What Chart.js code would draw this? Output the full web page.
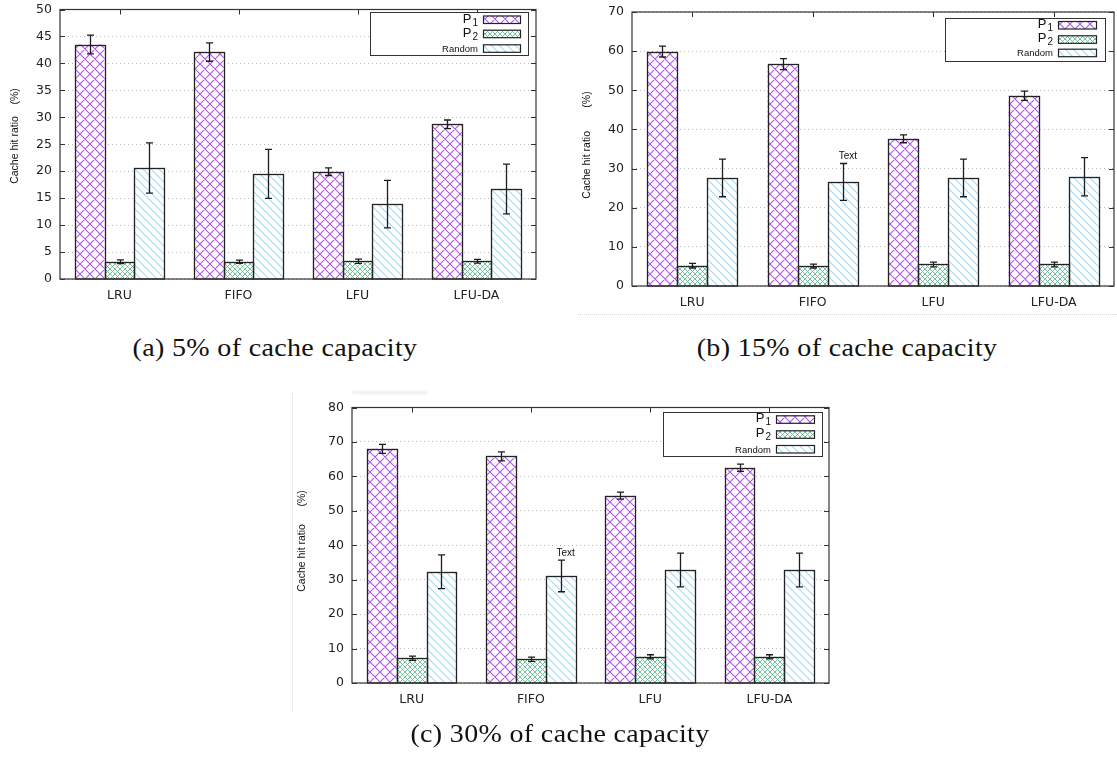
<!DOCTYPE html>
<html>
<head>
<meta charset="utf-8">
<title>Cache hit ratio</title>
<script src="https://cdn.jsdelivr.net/npm/chart.js@4.4.1/dist/chart.umd.min.js"></script>
<style>
  html, body { margin: 0; padding: 0; background: #fff; }
  body { width: 1117px; height: 760px; position: relative; overflow: hidden; }
  canvas.panel { position: absolute; }
  .caption {
    position: absolute;
    font-family: "Liberation Serif", "Times New Roman", serif;
    font-size: 25px;
    line-height: 1;
    color: #111;
    white-space: nowrap;
    transform: translateX(-50%) scaleX(1.12);
    letter-spacing: 0.3px;
  }
  .rule-h { position: absolute; border-top: 1px dotted #d8d8d8; height: 0; }
  .rule-v { position: absolute; border-left: 1px dotted #dcdcdc; width: 0; }
  .smudge { position: absolute; height: 3px; background: #eee; filter: blur(1px); }
</style>
</head>
<body>

<canvas id="chart5" class="panel" width="545" height="320" style="left:0px; top:-6px;"></canvas>
<canvas id="chart15" class="panel" width="547" height="320" style="left:570px; top:-6px;"></canvas>
<canvas id="chart30" class="panel" width="545" height="330" style="left:290px; top:392px;"></canvas>

<div class="caption" style="left:275px; top:335px;">(a) 5% of cache capacity</div>
<div class="caption" style="left:847px; top:335px;">(b) 15% of cache capacity</div>
<div class="caption" style="left:560px; top:721px;">(c) 30% of cache capacity</div>

<div class="rule-h" style="left:578px; top:314px; width:539px;"></div>
<div class="rule-v" style="left:292px; top:393px; height:318px;"></div>
<div class="smudge" style="left:352px; top:391px; width:75px;"></div>

<script>
// replacement policies on the x axis
const categories = ['LRU', 'FIFO', 'LFU', 'LFU-DA'];

// 5% of cache capacity
const p1Hit5 = [43.5, 42.1, 19.9, 28.7];
const p1Err5 = [1.75, 1.7, 0.7, 0.8];
const p2Hit5 = [3.2, 3.2, 3.3, 3.3];
const p2Err5 = [0.35, 0.3, 0.4, 0.35];
const randomHit5 = [20.6, 19.5, 13.9, 16.7];
const randomErr5 = [4.65, 4.55, 4.4, 4.6];
const yTicks5 = [0, 5, 10, 15, 20, 25, 30, 35, 40, 45, 50];

// 15% of cache capacity
const p1Hit15 = [59.9, 56.7, 37.6, 48.6];
const p1Err15 = [1.4, 1.4, 1.0, 1.2];
const p2Hit15 = [5.2, 5.1, 5.5, 5.5];
const p2Err15 = [0.6, 0.5, 0.6, 0.6];
const randomHit15 = [27.6, 26.6, 27.6, 27.9];
const randomErr15 = [4.8, 4.7, 4.8, 4.9];
const yTicks15 = [0, 10, 20, 30, 40, 50, 60, 70];

// 30% of cache capacity
const p1Hit30 = [68.0, 65.8, 54.4, 62.5];
const p1Err30 = [1.3, 1.3, 1.0, 1.05];
const p2Hit30 = [7.2, 6.9, 7.6, 7.6];
const p2Err30 = [0.6, 0.6, 0.6, 0.6];
const randomHit30 = [32.3, 31.1, 32.8, 32.8];
const randomErr30 = [4.9, 4.6, 4.9, 4.9];
const yTicks30 = [0, 10, 20, 30, 40, 50, 60, 70, 80];

// hatch fills, drawn once into small tiles
function hatch(size, color, width, dirs) {
  const tile = document.createElement('canvas');
  tile.width = tile.height = size;
  const g = tile.getContext('2d');
  g.fillStyle = '#fff';
  g.fillRect(0, 0, size, size);
  g.strokeStyle = color;
  g.lineWidth = width;
  g.beginPath();
  for (let k = -1; k <= 1; k++) {
    if (dirs.includes('\\')) { g.moveTo(k * size, 0); g.lineTo(k * size + size, size); }
    if (dirs.includes('/')) { g.moveTo(k * size, size); g.lineTo(k * size + size, 0); }
  }
  g.stroke();
  return g.createPattern(tile, 'repeat');
}

const fillP1 = hatch(10, '#b057e8', 1.1, '\\/');
const fillP2 = hatch(5, '#63bc92', 0.9, '\\/');
const fillRandom = hatch(8, '#a9d6f0', 1.1, '\\');

const legendRows = [
  { main: 'P', sub: '1', fill: fillP1 },
  { main: 'P', sub: '2', fill: fillP2 },
  { main: 'Random', sub: '', fill: fillRandom }
];

function buildPanel(spec) {
  const cv = document.getElementById(spec.id);
  const offX = spec.canvas.left, offY = spec.canvas.top;
  const area = spec.area;

  const decor = {
    id: 'decor',
    afterDatasetsDraw(chart) {
      const ctx = chart.ctx;
      const { left, right, top, bottom } = chart.chartArea;
      const xs = chart.scales.x, ys = chart.scales.y;
      ctx.save();

      // bar outlines, one shared line between neighbouring bars
      ctx.strokeStyle = '#222';
      ctx.lineWidth = 1.3;
      chart.data.datasets.forEach((ds, di) => {
        chart.getDatasetMeta(di).data.forEach(bar => {
          const p = bar.getProps(['x', 'y', 'base', 'width'], true);
          const x0 = Math.round(p.x - p.width / 2) + 0.5;
          const x1 = Math.round(p.x + p.width / 2) + 0.5;
          const y0 = Math.round(p.y) + 0.5;
          ctx.strokeRect(x0, y0, x1 - x0, Math.round(p.base) - y0);
        });
      });

      // error bars
      ctx.strokeStyle = '#1c1c1c';
      ctx.lineWidth = 1.3;
      chart.data.datasets.forEach((ds, di) => {
        chart.getDatasetMeta(di).data.forEach((bar, i) => {
          const v = ds.data[i], e = ds.errors[i];
          const y1 = ys.getPixelForValue(v + e), y2 = ys.getPixelForValue(v - e);
          const bx = Math.round(bar.x) + 0.5;
          ctx.beginPath();
          ctx.moveTo(bx, y1); ctx.lineTo(bx, y2);
          ctx.moveTo(bx - 3.5, y1); ctx.lineTo(bx + 3.5, y1);
          ctx.moveTo(bx - 3.5, y2); ctx.lineTo(bx + 3.5, y2);
          ctx.stroke();
        });
      });

      // plot frame and inward ticks
      ctx.strokeStyle = '#333';
      ctx.lineWidth = 1.2;
      ctx.strokeRect(left, top, right - left, bottom - top);
      ctx.lineWidth = 1;
      ctx.beginPath();
      ys.ticks.forEach(t => {
        const py = Math.round(ys.getPixelForValue(t.value)) + 0.5;
        ctx.moveTo(left, py); ctx.lineTo(left + 5, py);
        ctx.moveTo(right, py); ctx.lineTo(right - 5, py);
      });
      categories.forEach((c, i) => {
        const px = Math.round(xs.getPixelForValue(i)) + 0.5;
        ctx.moveTo(px, top); ctx.lineTo(px, top + 5);
      });
      ctx.stroke();

      // key box
      const L = spec.legend;
      ctx.fillStyle = '#fff';
      ctx.fillRect(L.x1 - offX, L.y1 - offY, L.x2 - L.x1, L.y2 - L.y1);
      ctx.strokeStyle = '#333';
      ctx.lineWidth = 1;
      ctx.strokeRect(L.x1 - offX + 0.5, L.y1 - offY + 0.5, L.x2 - L.x1, L.y2 - L.y1);
      legendRows.forEach((row, i) => {
        const cy = L.rows[i] - offY;
        const sx = L.swatchX - offX;
        ctx.fillStyle = row.fill;
        ctx.fillRect(sx, cy - 4, L.swatchW, 8);
        ctx.strokeStyle = '#222';
        ctx.lineWidth = 1.2;
        ctx.strokeRect(sx + 0.5, cy - 3.5, L.swatchW, 7.5);
        ctx.fillStyle = '#111';
        ctx.textBaseline = 'alphabetic';
        ctx.textAlign = 'left';
        const tr = L.textRight - offX;
        if (row.sub) {
          ctx.font = '13px "Liberation Sans", Arial, sans-serif';
          const wm = ctx.measureText(row.main).width;
          ctx.font = '10px "Liberation Sans", Arial, sans-serif';
          const ws = ctx.measureText(row.sub).width;
          ctx.font = '13px "Liberation Sans", Arial, sans-serif';
          ctx.fillText(row.main, tr - wm - ws - 1, cy + 3);
          ctx.font = '10px "Liberation Sans", Arial, sans-serif';
          ctx.fillText(row.sub, tr - ws, cy + 6);
        } else {
          ctx.font = '9.5px "Liberation Sans", Arial, sans-serif';
          const w = ctx.measureText(row.main).width;
          ctx.fillText(row.main, tr - w, cy + 3.5);
        }
      });

      // y axis title
      ctx.save();
      ctx.translate(spec.yTitle.x - offX, spec.yTitle.y - offY);
      ctx.rotate(-Math.PI / 2);
      ctx.font = '10.5px "Liberation Sans", Arial, sans-serif';
      ctx.fillStyle = '#111';
      ctx.textAlign = 'center';
      ctx.textBaseline = 'middle';
      ctx.fillText(spec.yTitle.text, 0, 0);
      ctx.restore();

      // free text note above the FIFO / Random bar
      if (spec.note) {
        const meta = chart.getDatasetMeta(2);
        const bar = meta.data[1];
        const ds = chart.data.datasets[2];
        const topY = ys.getPixelForValue(ds.data[1] + ds.errors[1]);
        ctx.font = '10px "Liberation Sans", Arial, sans-serif';
        ctx.fillStyle = '#111';
        ctx.textAlign = 'center';
        ctx.textBaseline = 'middle';
        ctx.fillText(spec.note, bar.x + 5, topY - 7);
      }
      ctx.restore();
    }
  };

  const yTicks = spec.yTicks;
  return new Chart(cv, {
    type: 'bar',
    data: {
      labels: categories,
      datasets: [
        { label: 'P1', data: spec.p1, errors: spec.p1Err, backgroundColor: fillP1 },
        { label: 'P2', data: spec.p2, errors: spec.p2Err, backgroundColor: fillP2 },
        { label: 'Random', data: spec.random, errors: spec.randomErr, backgroundColor: fillRandom }
      ].map(d => Object.assign(d, {
        borderWidth: 0,
        inflateAmount: 0,
        barPercentage: 1,
        categoryPercentage: 0.75
      }))
    },
    options: {
      responsive: false,
      maintainAspectRatio: false,
      animation: false,
      devicePixelRatio: 1,
      layout: {
        padding: {
          left: 0,
          top: area.top - offY,
          right: spec.canvas.left + spec.canvas.width - area.right,
          bottom: 0
        }
      },
      plugins: { legend: { display: false }, tooltip: { enabled: false } },
      scales: {
        x: {
          grid: { display: false, drawTicks: false },
          border: { display: false },
          ticks: {
            color: '#222',
            padding: 9,
            font: { family: '"DejaVu Sans", sans-serif', size: 12.5 }
          },
          afterFit: s => { s.height = spec.canvas.top + spec.canvas.height - area.bottom; }
        },
        y: {
          min: yTicks[0],
          max: yTicks[yTicks.length - 1],
          grid: { color: '#b8b8b8', lineWidth: 1, drawTicks: false },
          border: { display: false, dash: [1, 3] },
          ticks: {
            color: '#222',
            padding: 8,
            font: { family: '"DejaVu Sans", sans-serif', size: 12.5 }
          },
          afterBuildTicks: s => { s.ticks = yTicks.map(v => ({ value: v })); },
          afterFit: s => { s.width = area.left - offX; }
        }
      }
    },
    plugins: [decor]
  });
}

buildPanel({
  id: 'chart5',
  canvas: { left: 0, top: -6, width: 545, height: 320 },
  area: { left: 60, right: 536, top: 7, bottom: 279 },
  p1: p1Hit5, p1Err: p1Err5, p2: p2Hit5, p2Err: p2Err5, random: randomHit5, randomErr: randomErr5,
  yTicks: yTicks5,
  legend: { x1: 370, x2: 528, y1: 12, y2: 55, rows: [19.5, 33.7, 48.3], swatchX: 483, swatchW: 37, textRight: 478 },
  yTitle: { x: 15, y: 136, text: 'Cache hit ratio    (%)' },
  note: null
});

buildPanel({
  id: 'chart15',
  canvas: { left: 570, top: -6, width: 547, height: 320 },
  area: { left: 632, right: 1114, top: 12, bottom: 286 },
  p1: p1Hit15, p1Err: p1Err15, p2: p2Hit15, p2Err: p2Err15, random: randomHit15, randomErr: randomErr15,
  yTicks: yTicks15,
  legend: { x1: 945, x2: 1105, y1: 18, y2: 61, rows: [25, 39.3, 52.7], swatchX: 1058, swatchW: 38, textRight: 1053 },
  yTitle: { x: 587, y: 145, text: 'Cache hit ratio        (%)' },
  note: 'Text'
});

buildPanel({
  id: 'chart30',
  canvas: { left: 290, top: 392, width: 545, height: 330 },
  area: { left: 352, right: 829, top: 407, bottom: 683 },
  p1: p1Hit30, p1Err: p1Err30, p2: p2Hit30, p2Err: p2Err30, random: randomHit30, randomErr: randomErr30,
  yTicks: yTicks30,
  legend: { x1: 663, x2: 822, y1: 412, y2: 456, rows: [419.3, 434.3, 449], swatchX: 776, swatchW: 38, textRight: 771 },
  yTitle: { x: 302, y: 541, text: 'Cache hit ratio      (%)' },
  note: 'Text'
});
</script>
</body>
</html>
